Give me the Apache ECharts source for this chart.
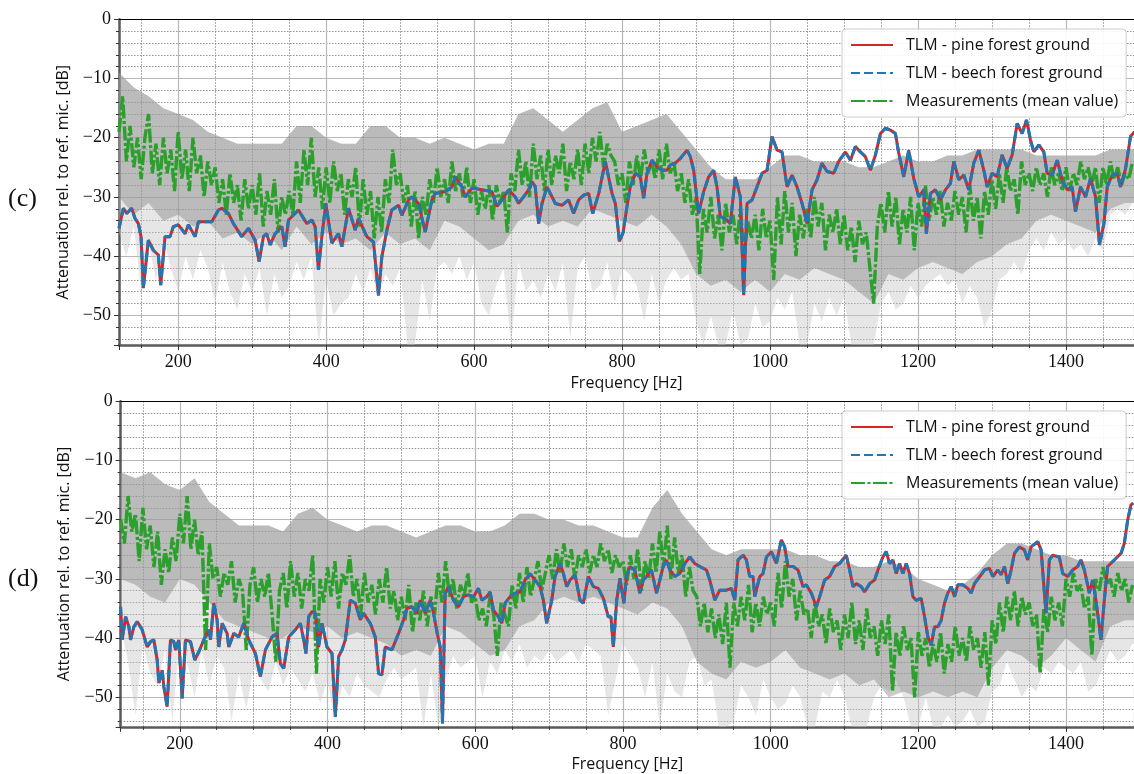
<!DOCTYPE html>
<html><head><meta charset="utf-8">
<script src="https://cdn.jsdelivr.net/npm/echarts/dist/echarts.min.js"></script>
<style>html,body{margin:0;padding:0;background:#fff}#chart{width:1134px;height:774px}</style>
</head><body><div id="chart"></div>
<script>
// ---------- sampling grids (frequency, Hz) ----------
function range(a, b, s) { const r = []; for (let v = a; v <= b + 1e-9; v += s) r.push(Math.round(v * 10) / 10); return r; }
const freq5 = range(120, 1490, 5);
const freq10 = range(120, 1500, 10);
const freq20 = range(120, 1500, 20);

const legendNames = ['TLM - pine forest ground', 'TLM - beech forest ground', 'Measurements (mean value)'];
const panelLabels = ['(c)', '(d)'];

// ---------- panel (c) ----------
const tlmPineC = [[120,-35.3],[125.9,-31.9],[130.4,-32.8],[137.1,-31.9],[141.6,-33.6],[146.2,-34.5],[149.8,-36.7],[152.9,-45.4],[159.7,-37.3],[166.4,-39.0],[173.2,-39.8],[176.4,-44.9],[182.2,-36.7],[189.0,-36.7],[193.5,-35.0],[200.3,-34.7],[209.3,-36.2],[213.8,-34.7],[222.8,-36.7],[227.3,-34.2],[236.3,-34.2],[245.4,-34.2],[254.4,-32.2],[258.9,-31.9],[267.9,-32.8],[274.7,-34.5],[285.9,-36.7],[295.0,-35.3],[304.0,-37.3],[309.4,-40.9],[315.2,-36.7],[319.7,-36.2],[324.3,-38.1],[331.0,-36.2],[340.0,-35.0],[344.5,-38.4],[349.1,-33.9],[362.6,-32.2],[373.9,-34.5],[380.6,-33.9],[385.1,-35.0],[389.6,-42.3],[394.2,-36.7],[399.6,-31.1],[407.7,-37.8],[416.7,-36.2],[421.2,-38.4],[430.2,-31.9],[439.2,-35.6],[443.8,-33.6],[455.0,-36.7],[464.0,-37.6],[470.8,-46.6],[475.3,-40.1],[482.1,-35.6],[488.8,-32.2],[497.9,-31.4],[502.4,-33.1],[511.4,-30.5],[515.9,-30.0],[524.9,-31.1],[533.9,-35.9],[542.9,-30.5],[547.5,-29.4],[561.0,-29.1],[570.0,-28.3],[574.5,-26.6],[583.6,-28.3],[588.1,-30.0],[597.1,-28.5],[610.6,-28.8],[624.1,-29.1],[630.9,-31.6],[637.6,-30.5],[646.7,-28.8],[655.7,-30.0],[660.2,-31.1],[673.7,-28.8],[678.2,-27.4],[682.7,-28.3],[687.2,-34.5],[691.8,-31.1],[698.5,-28.3],[709.8,-31.1],[718.8,-31.4],[727.8,-30.5],[734.6,-32.8],[741.3,-30.5],[748.1,-29.7],[754.9,-29.4],[760.3,-32.8],[768.5,-29.4],[777.4,-24.0],[786.4,-29.4],[790.9,-31.1],[796.4,-37.5],[801.5,-36.0],[806.6,-31.6],[811.1,-28.3],[817.9,-26.0],[824.6,-26.6],[829.2,-30.2],[833.7,-26.0],[840.4,-23.8],[847.2,-24.9],[853.9,-25.5],[860.7,-25.5],[865.2,-24.6],[872.0,-24.3],[878.7,-23.5],[887.8,-22.1],[892.3,-23.2],[896.8,-25.5],[903.5,-32.8],[910.3,-29.1],[917.1,-26.6],[923.8,-25.5],[928.3,-28.3],[932.8,-33.3],[941.9,-33.9],[946.4,-34.5],[953.1,-26.6],[959.9,-30.0],[964.4,-46.6],[968.9,-31.1],[975.7,-30.5],[982.4,-28.3],[989.2,-26.0],[996.0,-25.5],[1002.7,-19.8],[1009.5,-22.1],[1016.2,-22.4],[1023.0,-28.3],[1029.8,-26.3],[1036.5,-28.3],[1043.3,-31.1],[1050.1,-34.5],[1056.8,-28.8],[1063.6,-27.1],[1070.3,-24.3],[1077.1,-25.7],[1086.1,-26.0],[1092.9,-24.0],[1101.9,-22.4],[1108.7,-23.8],[1115.4,-21.5],[1122.2,-22.4],[1128.9,-23.2],[1135.7,-25.5],[1142.5,-22.9],[1149.2,-19.3],[1156.0,-18.4],[1162.7,-18.7],[1169.5,-19.3],[1174.0,-22.6],[1180.8,-26.6],[1187.5,-22.1],[1194.3,-26.9],[1201.1,-30.0],[1207.8,-28.8],[1211.4,-36.2],[1216.8,-29.4],[1223.6,-28.8],[1230.4,-30.5],[1237.1,-28.8],[1243.9,-27.7],[1248.4,-24.0],[1255.2,-27.1],[1261.9,-26.3],[1268.7,-28.8],[1275.4,-24.3],[1282.2,-22.1],[1289.0,-25.5],[1293.5,-28.3],[1300.2,-26.0],[1307.0,-26.6],[1313.8,-22.9],[1320.5,-25.2],[1327.3,-22.9],[1334.1,-17.6],[1340.8,-19.3],[1346.7,-17.0],[1352.1,-20.4],[1356.6,-22.4],[1363.4,-21.2],[1370.1,-22.4],[1374.6,-26.0],[1381.4,-26.3],[1388.2,-23.8],[1394.9,-27.1],[1401.7,-28.8],[1408.4,-28.3],[1412.9,-32.5],[1419.7,-28.3],[1426.5,-30.0],[1433.2,-26.9],[1440.0,-30.0],[1445.4,-38.1],[1451.3,-34.5],[1455.8,-28.3],[1462.5,-26.3],[1469.3,-26.0],[1473.8,-28.3],[1480.6,-25.2],[1487.3,-19.8],[1492.8,-19.0]];
const tlmBeechC = tlmPineC.map(p => p.slice());

const meanC = [
 -19,-13,-24,-18,-25,-20,
 -27,-20,-16,-26,-21,-28,-20,-26,-22,-29,
 -19,-27,-22,-29,-20,-26,-23,-30,-24,-28,
 -25,-31,-27,-33,-26,-31,-28,-34,-27,-32,
 -28,-33,-26,-35,-29,-33,-27,-36,-30,-33,
 -29,-33,-24,-31,-22,-28,-20,-30,-25,-32,
 -25,-31,-24,-29,-26,-33,-27,-30,-25,-35,
 -27,-33,-29,-37,-30,-36,-27,-31,-22,-28,
 -26,-31,-28,-35,-29,-37,-30,-33,-27,-31,
 -25,-30,-27,-31,-24,-29,-26,-30,-25,-31,
 -27,-33,-29,-32,-28,-34,-28,-31,-29,-36,
 -26,-29,-22,-28,-24,-30,-21,-27,-23,-29,
 -22,-28,-23,-26,-21,-29,-24,-27,-22,-28,
 -21,-26,-20,-24,-19,-25,-21,-23,-24,-28,
 -26,-31,-24,-28,-23,-27,-22,-26,-24,-27,
 -22,-27,-21,-26,-24,-29,-26,-31,-27,-33,
 -30,-43,-32,-36,-30,-37,-33,-39,-31,-36,
 -33,-38,-32,-40,-34,-37,-33,-39,-32,-37,
 -34,-44,-30,-38,-29,-36,-31,-40,-33,-37,
 -32,-37,-30,-35,-31,-39,-33,-36,-32,-38,
 -33,-39,-35,-41,-34,-38,-36,-42,-48,-35,
 -31,-36,-29,-35,-30,-38,-32,-36,-30,-39,
 -31,-35,-28,-34,-30,-33,-29,-35,-31,-34,
 -29,-33,-30,-36,-28,-34,-30,-37,-29,-33,
 -27,-32,-26,-31,-25,-29,-27,-33,-24,-28,
 -26,-29,-25,-28,-26,-30,-25,-28,-26,-29,
 -25,-29,-26,-28,-24,-27,-25,-28,-25,-31,
 -25,-28,-24,-27,-25,-28,-26,-27,-24];

const grayTopC = [
 -9,-11.5,-13,-15,-16,-17,-19,-20,-21,-21,
 -21,-21,-18,-18,-20,-21,-21,-18,-18,-20,
 -20,-21,-20,-21,-22,-21,-21,-16,-15,-17,
 -19,-17,-15,-14,-19,-18,-17,-16,-19,-22,
 -25,-27,-27,-27,-25,-23,-23,-24,-24,-24,
 -25,-25,-24,-23,-24,-24,-23,-23,-22,-22,
 -22,-22,-23,-23,-23,-23,-23,-22,-22,-22];
const grayCoreLowC = [
 -30,-33,-31,-34,-33,-35,-34,-37,-36,-38,
 -36,-39,-35,-38,-36,-38,-37,-39,-36,-38,
 -37,-39,-34,-35,-37,-39,-38,-34,-33,-35,
 -34,-35,-32,-33,-34,-35,-33,-35,-38,-43,
 -45,-44,-46,-44,-46,-43,-44,-42,-43,-44,
 -46,-48,-43,-44,-42,-41,-42,-43,-41,-40,
 -38,-37,-34,-33,-34,-35,-36,-32,-31,-31];
const graySpikeLowC = [
 -36,-40,-35,-46,-38,-44,-37,-42,-46,-40,
 -44,-39,-42,-48,-41,-46,-49,-43,-46,-42,
 -50,-43,-47,-45,-41,-44,-40,-55,-44,-50,
 -48,-47,-43,-46,-42,-47,-43,-45,-42,-55,
 -55,-44,-51,-42,-41,-43,-40,-44,-41,-48,
 -50,-45,-42,-55,-41,-46,-44,-47,-43,-46,
 -41,-54,-42,-40,-46,-45,-41,-48,-42,-43,
 -45,-51,-43,-48,-44,-42,-44,-43,-51,-55,
 -50,-55,-55,-49,-55,-54,-48,-52,-51,-47,
 -49,-46,-55,-55,-48,-51,-47,-50,-47,-55,
 -55,-55,-55,-48,-46,-49,-48,-45,-47,-45,
 -44,-43,-45,-44,-48,-45,-47,-52,-49,-44,
 -43,-41,-43,-39,-37,-39,-36,-38,-37,-39,
 -38,-40,-37,-39,-33,-32,-33,-31,-31];

// ---------- panel (d) ----------
const tlmPineD = [[119.8,-34.7],[122.1,-40.3],[126.6,-36.4],[131.1,-38.1],[133.3,-40.3],[137.8,-38.1],[142.4,-37.2],[149.1,-38.6],[155.9,-41.5],[160.4,-40.6],[164.9,-40.3],[169.4,-43.7],[171.7,-47.6],[176.2,-45.4],[178.4,-48.2],[182.9,-51.6],[187.4,-40.3],[191.9,-40.6],[194.2,-42.0],[198.7,-40.3],[203.2,-50.2],[207.7,-40.3],[214.5,-40.6],[220.3,-43.7],[225.8,-42.3],[232.5,-40.3],[239.3,-38.6],[241.5,-40.3],[246.0,-34.1],[250.5,-36.9],[252.8,-41.5],[257.3,-37.5],[264.1,-39.2],[266.3,-41.5],[273.1,-39.2],[279.8,-39.8],[286.6,-37.5],[293.4,-40.3],[302.4,-42.6],[309.1,-46.5],[315.9,-42.0],[324.9,-39.8],[331.7,-39.2],[336.2,-44.3],[340.7,-45.1],[347.5,-39.8],[356.5,-38.6],[363.2,-37.5],[367.8,-40.3],[370.9,-42.6],[374.5,-36.4],[379.0,-35.5],[383.5,-35.8],[388.0,-41.5],[392.5,-37.5],[399.3,-41.5],[406.1,-42.6],[410.6,-53.3],[415.1,-43.1],[419.6,-42.0],[424.1,-40.3],[430.9,-33.6],[437.6,-34.1],[444.4,-36.9],[448.9,-35.8],[457.9,-37.5],[464.7,-39.8],[469.2,-46.0],[473.7,-46.2],[478.2,-41.5],[487.2,-42.0],[496.2,-39.2],[503.0,-36.9],[507.5,-35.0],[514.3,-34.7],[521.0,-35.8],[525.5,-33.6],[532.3,-35.8],[539.1,-33.6],[543.6,-35.8],[548.1,-38.9],[552.6,-41.5],[555.7,-54.4],[559.3,-32.4],[563.8,-31.3],[570.6,-33.6],[577.4,-34.7],[584.1,-33.0],[590.9,-32.7],[597.7,-33.0],[604.4,-31.6],[608.9,-33.6],[615.7,-33.0],[620.2,-32.2],[624.7,-35.3],[631.5,-36.4],[636.0,-37.5],[640.5,-34.1],[647.2,-33.0],[654.0,-32.4],[660.8,-32.2],[667.5,-30.2],[674.3,-29.1],[681.1,-30.2],[687.8,-31.3],[692.3,-33.6],[696.8,-37.5],[703.6,-33.6],[708.1,-29.6],[714.9,-27.4],[719.4,-29.1],[723.9,-31.3],[728.4,-30.2],[735.2,-29.3],[741.9,-33.6],[746.4,-34.1],[753.2,-29.6],[760.0,-31.3],[766.7,-31.6],[773.5,-33.3],[780.2,-36.4],[783.8,-36.4],[787.0,-41.5],[791.6,-33.6],[796.0,-29.9],[801.3,-34.1],[804.9,-29.6],[809.4,-27.9],[816.2,-28.5],[822.9,-32.4],[827.5,-30.2],[832.0,-29.6],[838.7,-28.5],[845.5,-32.4],[850.0,-30.2],[854.5,-27.9],[859.0,-26.8],[863.5,-28.5],[870.3,-29.6],[877.0,-29.1],[883.8,-27.4],[890.6,-26.3],[897.3,-27.4],[904.1,-27.9],[913.1,-28.5],[917.6,-30.2],[924.4,-33.6],[931.1,-31.9],[940.2,-31.9],[946.9,-31.6],[951.4,-33.6],[955.9,-26.8],[962.7,-26.0],[967.2,-26.8],[971.7,-29.6],[976.2,-29.6],[978.5,-33.0],[985.2,-29.6],[989.7,-29.1],[994.3,-26.3],[1001.0,-25.4],[1007.8,-27.4],[1014.5,-23.4],[1019.0,-24.6],[1023.5,-27.9],[1030.3,-27.9],[1037.1,-28.5],[1043.8,-31.3],[1048.3,-31.0],[1055.1,-32.4],[1061.9,-34.7],[1066.4,-33.0],[1073.1,-30.2],[1079.9,-29.6],[1086.7,-27.9],[1093.4,-27.4],[1102.4,-26.0],[1107.0,-28.5],[1111.5,-31.3],[1116.0,-30.8],[1122.7,-31.3],[1127.2,-32.2],[1134.0,-30.8],[1140.8,-30.2],[1145.3,-28.5],[1152.0,-26.3],[1156.5,-25.4],[1161.0,-27.4],[1165.6,-26.8],[1170.1,-29.1],[1174.6,-27.4],[1179.1,-29.1],[1183.6,-27.4],[1188.1,-29.1],[1192.6,-33.0],[1197.1,-33.6],[1203.9,-33.3],[1208.4,-36.4],[1212.9,-39.8],[1217.4,-41.2],[1221.9,-38.1],[1226.4,-38.1],[1230.9,-37.0],[1235.4,-34.1],[1239.9,-32.4],[1244.4,-31.3],[1249.0,-33.0],[1253.5,-31.0],[1260.2,-31.0],[1267.0,-31.6],[1271.5,-32.4],[1276.0,-30.8],[1285.0,-29.3],[1289.5,-28.5],[1296.3,-28.2],[1300.8,-29.6],[1307.6,-28.5],[1312.1,-29.3],[1316.6,-27.9],[1321.1,-30.8],[1325.6,-28.5],[1330.1,-25.7],[1336.9,-24.6],[1343.6,-25.1],[1348.1,-26.8],[1352.6,-24.6],[1361.7,-23.7],[1366.2,-25.1],[1370.7,-32.4],[1372.9,-35.8],[1377.4,-26.8],[1381.9,-26.0],[1390.9,-26.3],[1395.5,-29.1],[1402.2,-29.6],[1409.0,-28.5],[1415.7,-27.9],[1420.3,-26.8],[1424.8,-28.5],[1431.5,-32.4],[1436.0,-30.2],[1440.5,-33.6],[1447.3,-40.3],[1451.8,-33.6],[1456.3,-27.9],[1465.3,-26.8],[1474.4,-25.7],[1478.9,-24.0],[1483.4,-20.1],[1487.9,-17.5],[1491.0,-17.2]];
const tlmBeechD = tlmPineD.map(p => p.slice());

const meanD = [
 -20,-24,-16,-22,-19,-27,
 -18,-25,-21,-28,-22,-31,-25,-29,-23,-27,
 -19,-24,-16,-25,-20,-26,-22,-42,-24,-30,
 -28,-33,-29,-31,-27,-34,-30,-32,-42,-31,
 -28,-34,-30,-33,-29,-36,-44,-32,-29,-35,
 -27,-33,-29,-35,-30,-32,-26,-46,-30,-34,
 -28,-33,-27,-35,-29,-31,-26,-33,-30,-36,
 -29,-34,-31,-36,-30,-34,-28,-35,-32,-37,
 -33,-37,-31,-39,-34,-37,-32,-38,-33,-36,
 -29,-34,-27,-33,-30,-35,-31,-33,-29,-34,
 -33,-37,-35,-38,-33,-36,-43,-34,-36,-38,
 -31,-35,-29,-34,-28,-33,-30,-27,-32,-29,
 -26,-30,-25,-29,-24,-28,-25,-30,-26,-28,
 -25,-29,-26,-28,-24,-27,-25,-29,-26,-28,
 -27,-31,-26,-30,-25,-32,-27,-30,-24,-29,
 -22,-28,-21,-30,-23,-29,-26,-33,-28,-32,
 -33,-38,-34,-39,-35,-40,-36,-41,-34,-45,
 -34,-38,-33,-37,-31,-39,-34,-38,-33,-36,
 -34,-38,-29,-35,-27,-33,-30,-37,-32,-36,
 -35,-40,-34,-38,-36,-41,-35,-39,-37,-42,
 -36,-40,-34,-41,-37,-42,-35,-40,-38,-43,
 -37,-41,-36,-49,-39,-43,-38,-42,-40,-50,
 -39,-43,-40,-45,-41,-44,-39,-46,-41,-44,
 -38,-43,-40,-44,-38,-42,-40,-45,-39,-48,
 -37,-41,-34,-39,-33,-37,-32,-38,-33,-36,
 -34,-38,-36,-46,-35,-39,-33,-37,-34,-38,
 -30,-33,-29,-32,-31,-35,-33,-43,-30,-32,
 -28,-31,-30,-33,-29,-32,-30,-34,-31];

const grayTopD = [
 -12,-13,-12,-14,-15,-13,-17,-19,-21,-21,
 -21,-22,-19,-18,-20,-21,-22,-21,-21,-22,
 -23,-22,-21,-21,-22,-22,-21,-19,-19,-20,
 -20,-21,-21,-22,-23,-23,-18,-15,-19,-22,
 -25,-26,-25,-25,-25,-25,-26,-26,-27,-27,
 -28,-28,-27,-28,-30,-31,-32,-31,-29,-26,
 -24,-24,-25,-26,-26,-27,-27,-27,-27,-27];
const grayCoreLowD = [
 -30,-31,-33,-34,-30,-31,-34,-37,-38,-39,
 -40,-40,-38,-39,-38,-40,-39,-40,-41,-43,
 -42,-43,-38,-39,-41,-43,-42,-38,-37,-34,
 -33,-34,-33,-34,-35,-36,-34,-35,-38,-44,
 -46,-47,-44,-45,-44,-42,-45,-46,-47,-46,
 -48,-47,-50,-49,-50,-49,-50,-49,-50,-45,
 -42,-43,-45,-43,-40,-42,-44,-38,-37,-37];
const graySpikeLowD = [
 -38,-44,-53,-41,-46,-48,-42,-54,-40,-44,
 -50,-42,-48,-43,-45,-54,-46,-52,-45,-47,
 -49,-44,-48,-45,-47,-49,-46,-51,-47,-54,
 -48,-50,-46,-48,-49,-50,-47,-45,-47,-46,
 -45,-55,-46,-55,-47,-43,-45,-44,-43,-50,
 -44,-46,-42,-44,-41,-45,-43,-44,-42,-44,
 -43,-42,-44,-41,-42,-43,-53,-47,-41,-43,
 -45,-50,-44,-55,-46,-49,-50,-44,-43,-48,
 -47,-55,-55,-54,-48,-50,-53,-47,-50,-52,
 -51,-48,-50,-55,-55,-49,-50,-47,-50,-55,
 -55,-55,-50,-48,-49,-47,-50,-55,-55,-50,
 -55,-55,-53,-55,-54,-52,-55,-54,-49,-48,
 -44,-47,-50,-48,-49,-45,-46,-44,-45,-46,
 -44,-49,-48,-45,-42,-44,-43,-41,-41];

// ---------- layout ----------
const grids = [
  { left: 119, top: 19.3, width: 1015, height: 325.7 },
  { left: 120.7, top: 401.3, width: 1014, height: 325.6 }
];
const SANS = 'Open Sans';
const SERIF = 'Liberation Serif';
const MINUS = v => String(v).replace('-', '\u2212');

function bottomX(gi) {
  return {
    gridIndex: gi, type: 'value', min: 120, max: 1492, splitNumber: 7, position: 'bottom',
    axisLine: { show: true, onZero: false, lineStyle: { color: '#5a5a5a', width: 2.5 } },
    axisTick: { show: true, length: 5, lineStyle: { color: '#333', width: 1 } },
    minorTick: { show: true, splitNumber: 4, length: 3, lineStyle: { color: '#333', width: 1 } },
    axisLabel: { showMinLabel: false, showMaxLabel: false, formatter: v => String(v), fontFamily: SERIF, fontSize: 18, color: '#111', margin: 8 },
    splitLine: { show: true, lineStyle: { color: '#b8b8b8', width: 1.2 } },
    minorSplitLine: { show: true, lineStyle: { color: '#777', width: 0.8, type: [1.5, 1.5] } },
    name: 'Frequency [Hz]', nameLocation: 'middle', nameGap: 30,
    nameTextStyle: { fontFamily: SANS, fontSize: 16, color: '#111' }
  };
}
function topX(gi) {
  return {
    gridIndex: gi, type: 'value', min: 120, max: 1492, position: 'top',
    axisLine: { show: true, onZero: false, lineStyle: { color: '#000', width: 1 } },
    axisTick: { show: false }, axisLabel: { show: false }, splitLine: { show: false }
  };
}
function leftY(gi) {
  return {
    gridIndex: gi, type: 'value', min: -55, max: 0, splitNumber: 6,
    axisLine: { show: true, onZero: false, lineStyle: { color: '#5a5a5a', width: 2.5 } },
    axisTick: { show: true, length: 5, lineStyle: { color: '#333', width: 1 } },
    minorTick: { show: true, splitNumber: 5, length: 3, lineStyle: { color: '#333', width: 1 } },
    axisLabel: { showMinLabel: false, formatter: MINUS, fontFamily: SERIF, fontSize: 18, color: '#111', margin: 8 },
    splitLine: { show: true, lineStyle: { color: '#b8b8b8', width: 1.2 } },
    minorSplitLine: { show: true, lineStyle: { color: '#777', width: 0.8, type: [1.5, 1.5] } },
    name: 'Attenuation rel. to ref. mic. [dB]', nameLocation: 'middle', nameGap: 48, nameRotate: 90,
    nameTextStyle: { fontFamily: SANS, fontSize: 16, color: '#111' }
  };
}

function band(xi, yi, fTop, top, fBot, bot, fill, z) {
  return {
    type: 'custom', xAxisIndex: xi, yAxisIndex: yi, z: z, silent: true,
    data: [[fTop[0], top[0]]], encode: { x: 0, y: 1 },
    renderItem: function (params, api) {
      const pts = [];
      for (let i = 0; i < fTop.length; i++) pts.push(api.coord([fTop[i], top[i]]));
      for (let i = fBot.length - 1; i >= 0; i--) pts.push(api.coord([fBot[i], bot[i]]));
      return { type: 'polygon', shape: { points: pts }, style: { fill: fill } };
    }
  };
}
function panelSeries(xi, yi, pine, beech, mean, top, coreLow, spikeLow) {
  return [
    band(xi, yi, freq20, top, freq10, spikeLow, 'rgba(195,195,195,0.42)', 1),
    band(xi, yi, freq20, top, freq20, coreLow, 'rgba(128,128,128,0.42)', 2),
    { name: legendNames[2], type: 'line', xAxisIndex: xi, yAxisIndex: yi, z: 3,
      data: freq5.map((f, i) => [f, mean[i]]), symbol: 'none', showSymbol: false,
      lineStyle: { color: '#2ca02c', width: 3.4, type: [14, 2.5, 3, 2.5] }, itemStyle: { color: '#2ca02c' } },
    { name: legendNames[0], type: 'line', xAxisIndex: xi, yAxisIndex: yi, z: 4,
      data: pine, symbol: 'none', showSymbol: false,
      lineStyle: { color: '#d62728', width: 3 }, itemStyle: { color: '#d62728' } },
    { name: legendNames[1], type: 'line', xAxisIndex: xi, yAxisIndex: yi, z: 5,
      data: beech, symbol: 'none', showSymbol: false,
      lineStyle: { color: '#1f77b4', width: 3, type: [9, 4] }, itemStyle: { color: '#1f77b4' } }
  ];
}
function legendAt(top) {
  return {
    data: legendNames, orient: 'vertical', left: 842, top: top,
    itemWidth: 42, itemHeight: 14, itemGap: 12, padding: [8, 8, 8, 8],
    backgroundColor: 'rgba(255,255,255,0.9)', borderColor: '#cccccc', borderWidth: 1, borderRadius: 4,
    selectedMode: false,
    itemStyle: { opacity: 0, borderWidth: 0 },
    textStyle: { fontFamily: SANS, fontSize: 16, color: '#111', padding: [0, 0, 0, 8] }
  };
}

const chart = echarts.init(document.getElementById('chart'), null, { renderer: 'canvas' });
chart.setOption({
  animation: false,
  backgroundColor: '#ffffff',
  grid: grids,
  xAxis: [bottomX(0), topX(0), bottomX(1), topX(1)],
  yAxis: [leftY(0), leftY(1)],
  legend: [legendAt(29), legendAt(411)],
  graphic: [
    { type: 'text', left: 8, top: 186, style: { text: panelLabels[0], font: '26px "Liberation Serif"', fill: '#111' } },
    { type: 'text', left: 8, top: 566, style: { text: panelLabels[1], font: '26px "Liberation Serif"', fill: '#111' } }
  ],
  series: [].concat(
    panelSeries(0, 0, tlmPineC, tlmBeechC, meanC, grayTopC, grayCoreLowC, graySpikeLowC),
    panelSeries(2, 1, tlmPineD, tlmBeechD, meanD, grayTopD, grayCoreLowD, graySpikeLowD)
  )
});
</script></body></html>
